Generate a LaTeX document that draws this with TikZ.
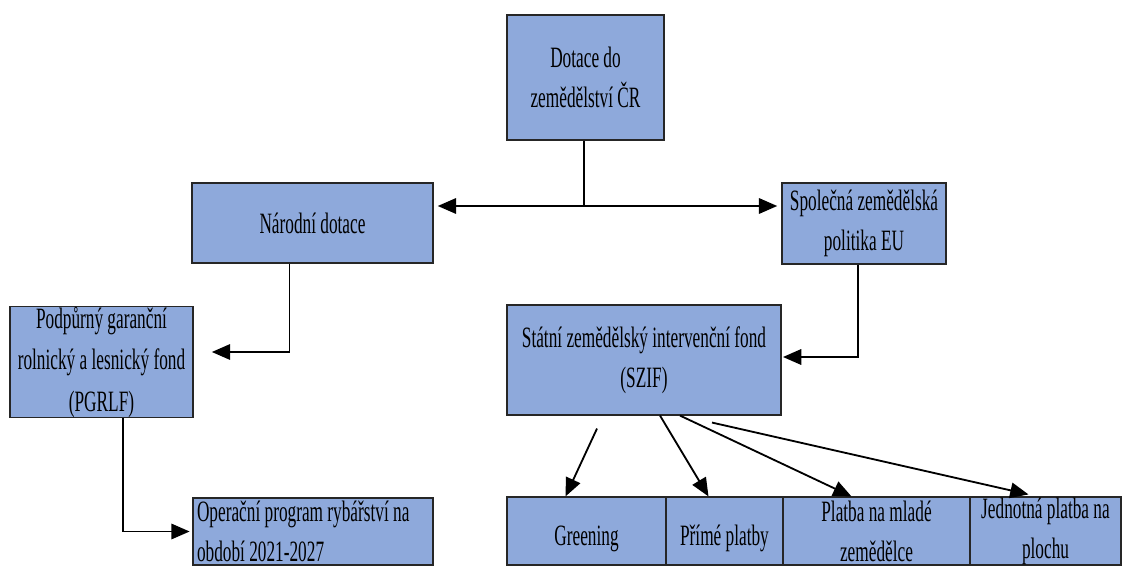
\documentclass[tikz,border=0pt]{standalone}
\usepackage{fontspec}
\setmainfont{Liberation Serif}[FakeStretch=0.585]
\usetikzlibrary{arrows.meta,calc}
\definecolor{boxblue}{HTML}{8EA9DB}
\tikzset{
  box/.style={draw=black!85, line width=0.8pt, fill=boxblue, inner sep=0pt,
    align=center, font=\fontsize{21}{28.5}\selectfont},
  wd/.style={minimum width=#1*0.025cm},
  ht/.style={minimum height=#1*0.025cm},
  oneline/.style={text height=20pt, text depth=0pt},
  link/.style={line width=1.3pt},
  arr/.style={link, -{Triangle[length=13pt,width=11pt]}}
}
\begin{document}
\begin{tikzpicture}[x=0.025cm, y=-0.025cm]
\useasboundingbox (0,0) rectangle (1125,578);
\node[box, wd=157, ht=125] (top) at (585.5,77.5) {Dotace do\\zemědělství ČR};
\node[box, wd=241, ht=80] (natl) at (312.5,223) {Národní dotace};
\node[box, wd=164, ht=81] (spz) at (864,223.5) {Společná zemědělská\\politika EU};
\node[box, wd=183, ht=108, font=\fontsize{21}{29.5}\selectfont] (pgrlf) at (101.5,362) {Podpůrný garanční\\rolnický a lesnický fond\\(PGRLF)};
\node[box, wd=274, ht=110] (szif) at (644,360) {Státní zemědělský intervenční fond\\(SZIF)};
\node[box, wd=240, ht=67, text width=232*0.025cm, align=flush left] (opr) at (313,531.5) {Operační program rybářství na\\období 2021-2027};
\node[box, wd=159, ht=68, oneline] (green) at (586.5,531) {Greening};
\node[box, wd=117, ht=68, oneline] (prime) at (724.5,531) {Přímé platby};
\node[box, wd=187, ht=68] (mlad) at (876.5,531) {Platba na mladé\\zemědělce};
\node[box, wd=151, ht=68] (jedn) at (1045.5,531) {Jednotná platba na\\plochu};

\coordinate (split) at (584,206);
\draw[link] ($(top.south)+(-1.5,0)$) -- (split);
\draw[arr, shorten >=3pt] (split) -- (natl.east |- split);
\draw[arr, shorten >=3pt] (split) -- (spz.west |- split);
\draw[arr, shorten >=13pt] ($(natl.south)+(-23,0)$) |- ($(pgrlf.east)+(0,-10)$);
\draw[arr, shorten >=1pt] ($(spz.south)+(-6,0)$) |- ($(szif.east)+(0,-3)$);
\draw[arr, shorten >=2pt] ($(pgrlf.south)+(21.5,0)$) |- (opr.west);
\draw[arr] ($(szif.south)+(-47,13)$) -- ($(green.north)+(-21,0)$);
\draw[arr] ($(szif.south)+(16,0)$) -- ($(prime.north)+(-16,0)$);
\draw[arr] ($(szif.south)+(36,0)$) -- ($(mlad.north)+(-25,0)$);
\draw[arr] ($(szif.south)+(68,7)$) -- ($(jedn.north)+(-17,-2)$);
\end{tikzpicture}
\end{document}
